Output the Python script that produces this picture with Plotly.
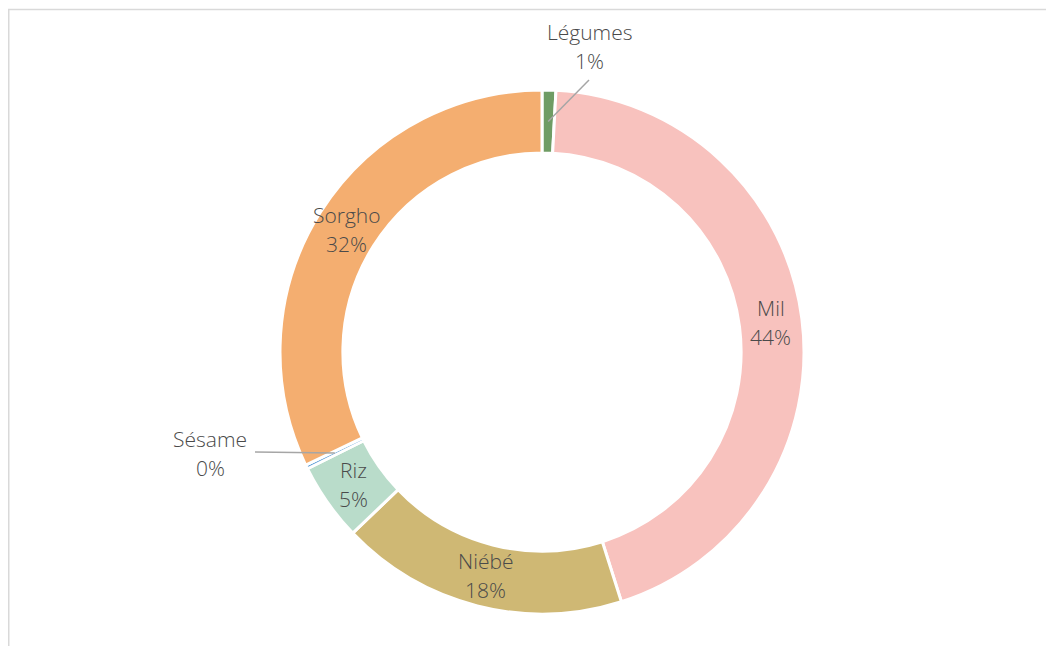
import math
import plotly.graph_objects as go

# ---- data ----
labels = ["Légumes", "Mil", "Niébé", "Riz", "Sésame", "Sorgho"]
values = [0.85, 44.25, 17.75, 4.8, 0.25, 32.1]
colors = ["#6f9c64", "#f8c2be", "#cfb874", "#b9dcca", "#5b9bd5", "#f4ae70"]

W, H = 1054, 646
OFF = 8  # page body margin
CX, CY, R = 542 - OFF, 352 - OFF, 262
HOLE = 0.76
RMID = R * (1 + HOLE) / 2
LINE = 29  # spacing between label lines (px)

def px(x):
    return x / W

def py(y):
    return 1 - y / H

total = sum(values)
pcts = [f"{round(v / total * 100)}%" for v in values]

fig = go.Figure(go.Pie(
    labels=labels, values=values, sort=False, direction="clockwise", rotation=0,
    hole=HOLE, textinfo="none", hoverinfo="label+percent",
    marker=dict(colors=colors, line=dict(color="white", width=3)),
    domain=dict(x=[px(CX - R), px(CX + R)], y=[py(CY + R), py(CY - R)]),
    showlegend=False,
))

font = dict(family="Open Sans, Lato, sans-serif", size=21, color="#4a4a4a", weight=300)
annotations = []
shapes = []

# outside-label anchors (layout positions, page px)
outside = {"Légumes": (589, 46.5, 589, 80), "Sésame": (210, 453.5, 255, 452)}


def add_label(cx, cy, lab, p):
    for txt, dy in ((lab, -LINE / 2), (p, LINE / 2)):
        annotations.append(dict(x=px(cx), y=py(cy + dy), xref="paper", yref="paper",
                                text=txt, showarrow=False, font=font,
                                xanchor="center", yanchor="middle"))


cum = 0.0
for lab, v, p in zip(labels, values, pcts):
    mid = (cum + v / 2) / total * 2 * math.pi
    cum += v
    mx = CX + RMID * math.sin(mid)
    my = CY - RMID * math.cos(mid)
    if lab in outside:
        lx, ly, ex, ey = outside[lab]
        lx, ly, ex, ey = lx - OFF, ly - OFF, ex - OFF, ey - OFF
        add_label(lx, ly, lab, p)
        shapes.append(dict(type="line", xref="paper", yref="paper",
                           x0=px(ex), y0=py(ey), x1=px(mx), y1=py(my),
                           line=dict(color="#a6a6a6", width=1.5)))
    else:
        add_label(mx, my, lab, p)

# chart frame
shapes.append(dict(type="rect", xref="paper", yref="paper",
                   x0=px(0.75), x1=1.2, y0=-0.2, y1=py(1.5),
                   line=dict(color="#d9d9d9", width=1.5), fillcolor="rgba(0,0,0,0)"))

fig.update_layout(
    width=W, height=H, margin=dict(l=0, r=0, t=0, b=0),
    paper_bgcolor="white", plot_bgcolor="white",
    annotations=annotations, shapes=shapes,
)

fig.write_html("out.html")
